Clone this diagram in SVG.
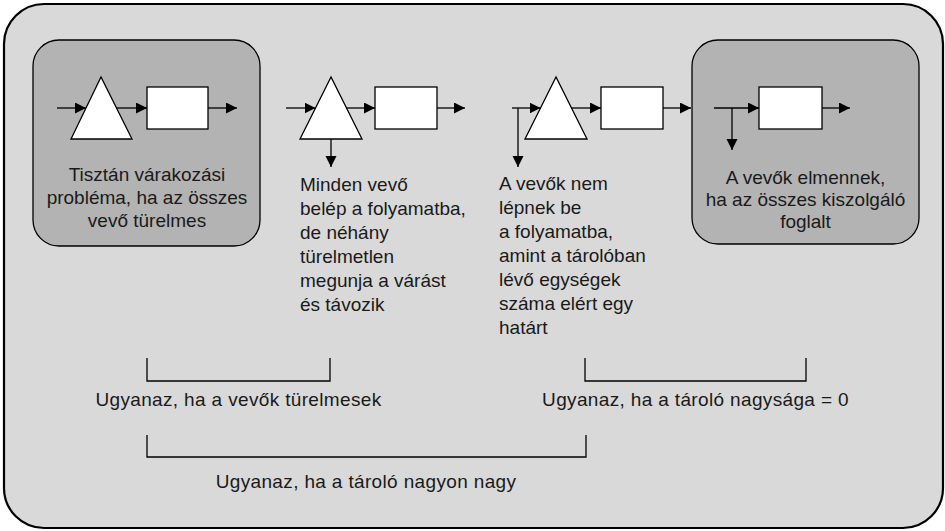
<svg xmlns="http://www.w3.org/2000/svg" width="945" height="531" viewBox="0 0 945 531">
  <style>
    .frame { fill: #d9d9d9; stroke: #000; stroke-width: 2.2; }
    .panel { fill: #b3b3b3; stroke: #000; stroke-width: 1.3; }
    .queue { fill: #fff; stroke: #000; stroke-width: 1.3; }
    .server { fill: #fff; stroke: #000; stroke-width: 1.3; }
    .flow { fill: none; stroke: #000; stroke-width: 1.3; }
    .bracket { fill: none; stroke: #000; stroke-width: 1.3; }
    text { font-family: "Liberation Sans", Arial, Helvetica, sans-serif; font-size: 19px; fill: #1a1a1a; }
    .mid { text-anchor: middle; }
  </style>
  <defs>
    <marker id="arrow" markerUnits="userSpaceOnUse" markerWidth="12" markerHeight="12" refX="11" refY="5.5" orient="auto">
      <path d="M0,0 L11,5.5 L0,11 Z" fill="#000"/>
    </marker>
  </defs>

  <!-- outer frame -->
  <rect class="frame" x="4" y="4" width="939" height="524" rx="40" ry="40"/>

  <!-- case 1: pure queueing -->
  <g id="case-pure">
    <rect class="panel" x="33" y="40" width="227" height="206" rx="26" ry="26"/>
    <polygon class="queue" points="101,77 71,139 132,139"/>
    <rect class="server" x="147" y="87" width="61" height="42"/>
    <text class="mid" x="147" y="181">Tisztán várakozási</text>
    <text class="mid" x="147" y="204">probléma, ha az összes</text>
    <text class="mid" x="147" y="226.5">vevő türelmes</text>
  </g>

  <!-- case 2: reneging -->
  <g id="case-reneging">
    <polygon class="queue" points="331,77 300,139 362,139"/>
    <rect class="server" x="375" y="87" width="62" height="42"/>
    <text x="300" y="190.5">Minden vevő</text>
    <text x="300" y="214.5">belép a folyamatba,</text>
    <text x="300" y="238.5">de néhány</text>
    <text x="300" y="262.5">türelmetlen</text>
    <text x="300" y="286.5">megunja a várást</text>
    <text x="300" y="310.5">és távozik</text>
  </g>

  <!-- case 3: balking at limited buffer -->
  <g id="case-balking">
    <polygon class="queue" points="556,77 525,139 587,139"/>
    <rect class="server" x="601" y="87" width="62" height="42"/>
    <text x="499" y="190">A vevők nem</text>
    <text x="499" y="214">lépnek be</text>
    <text x="499" y="238">a folyamatba,</text>
    <text x="499" y="262">amint a tárolóban</text>
    <text x="499" y="286">lévő egységek</text>
    <text x="499" y="310">száma elért egy</text>
    <text x="499" y="334">határt</text>
  </g>

  <!-- case 4: loss system -->
  <g id="case-loss">
    <rect class="panel" x="692" y="40" width="227" height="204" rx="26" ry="26"/>
    <rect class="server" x="759" y="87" width="63" height="42"/>
    <text class="mid" x="805.5" y="184">A vevők elmennek,</text>
    <text class="mid" x="805.5" y="206">ha az összes kiszolgáló</text>
    <text class="mid" x="805.5" y="228">foglalt</text>
  </g>

  <!-- flow arrows -->
  <g id="connectors">
    <line class="flow" x1="57" y1="108" x2="86" y2="108" marker-end="url(#arrow)"/>
    <line class="flow" x1="116" y1="108" x2="147" y2="108" marker-end="url(#arrow)"/>
    <line class="flow" x1="208" y1="108" x2="237" y2="108" marker-end="url(#arrow)"/>

    <line class="flow" x1="286" y1="108" x2="315.5" y2="108" marker-end="url(#arrow)"/>
    <line class="flow" x1="346" y1="108" x2="375" y2="108" marker-end="url(#arrow)"/>
    <line class="flow" x1="437" y1="108" x2="465" y2="108" marker-end="url(#arrow)"/>
    <line class="flow" x1="331" y1="139" x2="331" y2="167" marker-end="url(#arrow)"/>

    <line class="flow" x1="512" y1="108" x2="540.5" y2="108" marker-end="url(#arrow)"/>
    <line class="flow" x1="518" y1="108" x2="518" y2="167" marker-end="url(#arrow)"/>
    <line class="flow" x1="571" y1="108" x2="601" y2="108" marker-end="url(#arrow)"/>
    <line class="flow" x1="663" y1="108" x2="691" y2="108" marker-end="url(#arrow)"/>

    <line class="flow" x1="714" y1="108" x2="759" y2="108" marker-end="url(#arrow)"/>
    <line class="flow" x1="732" y1="108" x2="732" y2="150" marker-end="url(#arrow)"/>
    <line class="flow" x1="822" y1="108" x2="850" y2="108" marker-end="url(#arrow)"/>
  </g>

  <!-- equivalence brackets -->
  <g id="bracket-patient">
    <polyline class="bracket" points="147,358 147,381 330,381 330,358"/>
    <text class="mid" x="238.5" y="406" letter-spacing="0.35">Ugyanaz, ha a vevők türelmesek</text>
  </g>
  <g id="bracket-zero-buffer">
    <polyline class="bracket" points="585,358 585,381 806,381 806,358"/>
    <text class="mid" x="695.5" y="406" letter-spacing="0.35">Ugyanaz, ha a tároló nagysága = 0</text>
  </g>
  <g id="bracket-large-buffer">
    <polyline class="bracket" points="147,435 147,457 586,457 586,435"/>
    <text class="mid" x="366" y="487.5" letter-spacing="0.35">Ugyanaz, ha a tároló nagyon nagy</text>
  </g>
</svg>
